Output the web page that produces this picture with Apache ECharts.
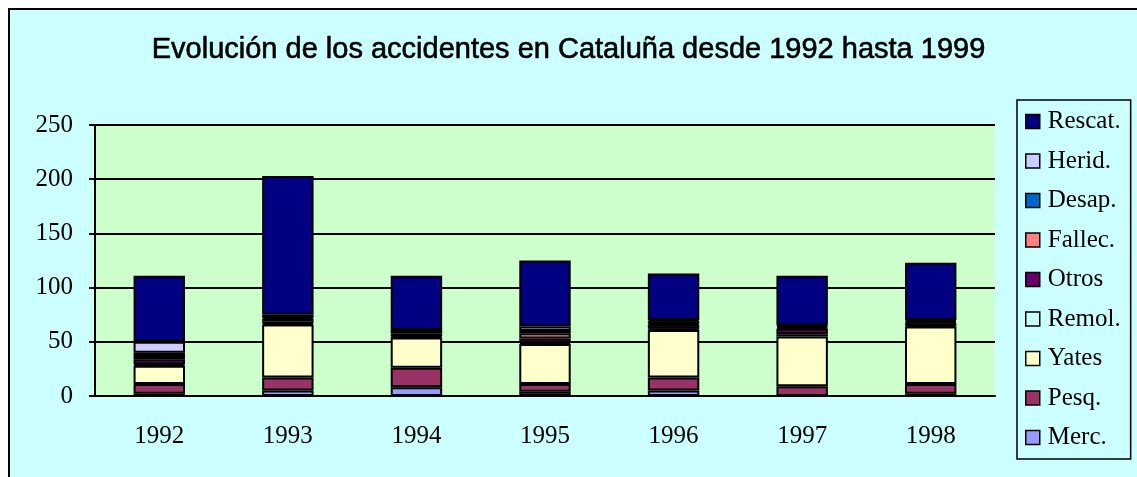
<!DOCTYPE html>
<html>
<head>
<meta charset="utf-8">
<script src="https://cdn.jsdelivr.net/npm/echarts@6/dist/echarts.min.js"></script>
<style>
  html, body { margin: 0; padding: 0; background: #fff; }
  #frame { position: absolute; left: 8px; top: 8px; width: 1140px; height: 480px; border: 2px solid #000; background: #ccffff; box-sizing: border-box; }
  #chart { position: absolute; left: 0; top: 0; width: 1137px; height: 477px; }
</style>
</head>
<body>
<div id="frame"></div>
<div id="chart"></div>
<script>
// años
const years = ['1992', '1993', '1994', '1995', '1996', '1997', '1998']
// valores por tipo (de abajo hacia arriba en la pila)
const merc   = [2, 5, 8, 4, 5, 0, 2]
const pesq   = [9, 12, 18, 7, 12, 9, 9]
const yates  = [17, 49, 28, 37, 44, 46, 53]
const remol  = [1, 1, 1, 1, 1, 2, 1]
const otros  = [5, 2, 3, 4, 4, 5, 2]
const fallec = [3, 2, 2, 5, 1, 1, 1]
const desap  = [3, 1, 0, 2, 2, 1, 1]
const herid  = [10, 3, 1, 4, 1, 1, 1]
const rescat = [61, 128, 50, 61, 43, 46, 53]
const yTicks = [0, 50, 100, 150, 200, 250]

const seriesDefs = [
    { name: 'Merc.', data: merc, color: '#9999ff' },
    { name: 'Pesq.', data: pesq, color: '#993366' },
    { name: 'Yates', data: yates, color: '#ffffcc' },
    { name: 'Remol.', data: remol, color: '#ccffff' },
    { name: 'Otros', data: otros, color: '#660066' },
    { name: 'Fallec.', data: fallec, color: '#ff8080' },
    { name: 'Desap.', data: desap, color: '#0066cc' },
    { name: 'Herid.', data: herid, color: '#ccccff' },
    { name: 'Rescat.', data: rescat, color: '#000080' }
]

let chart = echarts.init(document.getElementById('chart'))
let option = {
    animation: false,
    title: {
        text: 'Evolución de los accidentes en Cataluña desde 1992 hasta 1999',
        left: 'center',
        top: 30,
        textStyle: {
            fontFamily: 'Liberation Sans', fontWeight: 'normal', fontSize: 29, color: '#000',
            textBorderColor: '#000', textBorderWidth: 0.6
        }
    },
    legend: {
        orient: 'vertical',
        left: 1017,
        top: 100,
        padding: [9, 10, 9, 8],
        itemGap: 14.5,
        itemWidth: 14,
        itemHeight: 14,
        icon: 'rect',
        borderColor: '#000',
        borderWidth: 1.5,
        backgroundColor: '#ccffff',
        itemStyle: { borderColor: '#000', borderWidth: 1.5 },
        textStyle: { fontFamily: 'Liberation Serif', fontSize: 25, color: '#000', padding: [0, 0, 0, 3] },
        data: seriesDefs.map(s => s.name).reverse()
    },
    grid: { left: 95, right: 142, top: 125, bottom: 81, show: true, backgroundColor: '#ccffcc', borderWidth: 0 },
    xAxis: {
        type: 'category',
        data: years,
        axisLine: { lineStyle: { color: '#000', width: 2 } },
        axisTick: { lineStyle: { color: '#000', width: 2 }, length: 6 },
        axisLabel: { fontFamily: 'Liberation Serif', fontSize: 25, color: '#000', margin: 28 }
    },
    yAxis: {
        type: 'value',
        min: yTicks[0],
        max: yTicks[yTicks.length - 1],
        interval: 50,
        axisLine: { show: true, lineStyle: { color: '#000', width: 2 } },
        axisTick: { show: true, lineStyle: { color: '#000', width: 2 }, length: 6 },
        splitLine: { lineStyle: { color: '#000', width: 2 } },
        axisLabel: { fontFamily: 'Liberation Serif', fontSize: 25, color: '#000', margin: 22 }
    },
    series: seriesDefs.map(s => ({
        name: s.name,
        type: 'bar',
        stack: 'total',
        barWidth: '40%',
        data: s.data,
        itemStyle: { color: s.color, borderColor: '#000', borderWidth: 2 }
    }))
}
chart.setOption(option)
</script>
</body>
</html>
